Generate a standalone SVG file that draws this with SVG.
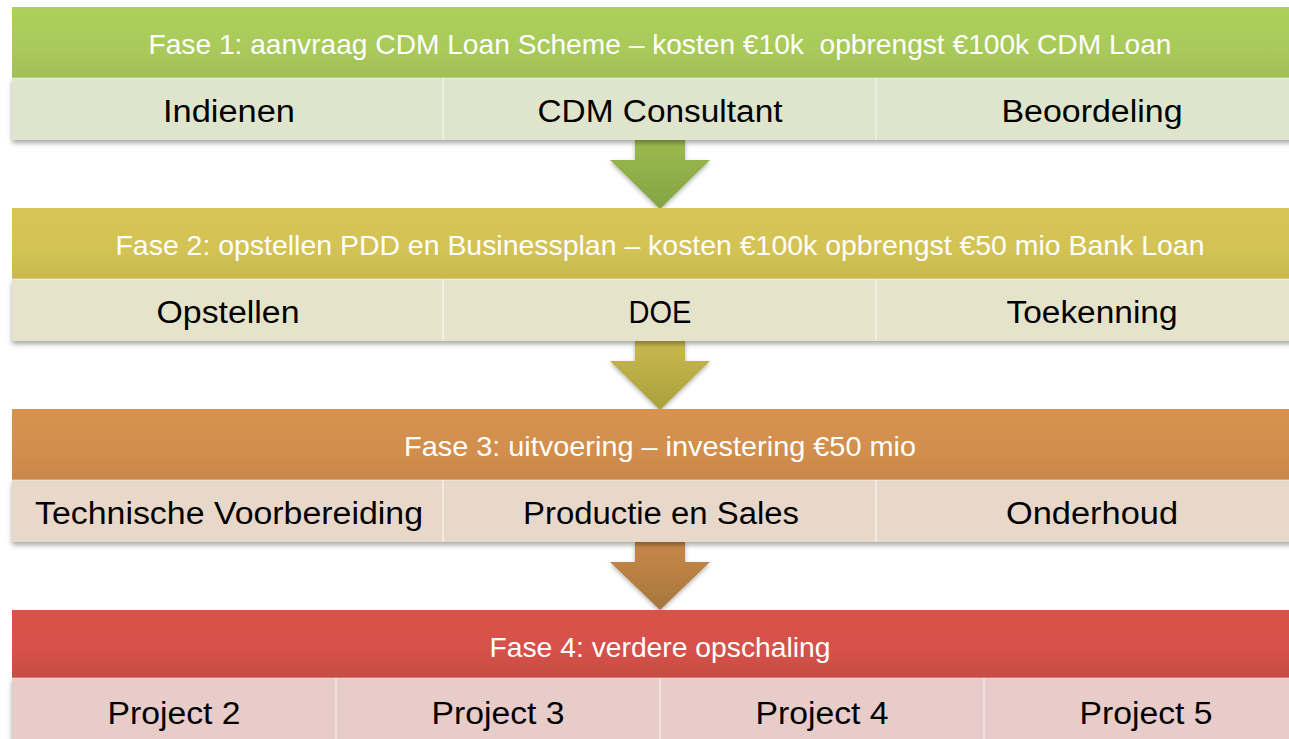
<svg xmlns="http://www.w3.org/2000/svg" width="1289" height="739" viewBox="0 0 1289 739">
<defs>
<style>
.hd{font-family:"Liberation Sans",Arial,sans-serif;font-size:28px;fill:#ffffff;text-anchor:middle}
.sb{font-family:"Liberation Sans",Arial,sans-serif;font-size:31px;fill:#000000;text-anchor:middle}
.dv{stroke:#ffffff;stroke-opacity:0.55;stroke-width:1.5}
</style>
<filter id="sh" x="-5%" y="-10%" width="110%" height="130%">
<feDropShadow dx="0" dy="3" stdDeviation="2.5" flood-color="#000" flood-opacity="0.35"/>
</filter>
<linearGradient id="g1" x1="0" y1="0" x2="0" y2="1"><stop offset="0" stop-color="#acd05b"/><stop offset="0.6" stop-color="#a9ca5a"/><stop offset="1" stop-color="#a1bf58"/></linearGradient>
<linearGradient id="g2" x1="0" y1="0" x2="0" y2="1"><stop offset="0" stop-color="#d7c656"/><stop offset="0.6" stop-color="#d3c254"/><stop offset="1" stop-color="#c9b84f"/></linearGradient>
<linearGradient id="g3" x1="0" y1="0" x2="0" y2="1"><stop offset="0" stop-color="#d6924e"/><stop offset="0.6" stop-color="#d28e4c"/><stop offset="1" stop-color="#c98648"/></linearGradient>
<linearGradient id="g4" x1="0" y1="0" x2="0" y2="1"><stop offset="0" stop-color="#da5248"/><stop offset="0.6" stop-color="#d5514a"/><stop offset="1" stop-color="#c74c43"/></linearGradient>
<linearGradient id="a1" x1="0" y1="0" x2="0" y2="1"><stop offset="0" stop-color="#9bbb50"/><stop offset="1" stop-color="#84a343"/></linearGradient>
<linearGradient id="a2" x1="0" y1="0" x2="0" y2="1"><stop offset="0" stop-color="#c9b84c"/><stop offset="1" stop-color="#a9a13f"/></linearGradient>
<linearGradient id="a3" x1="0" y1="0" x2="0" y2="1"><stop offset="0" stop-color="#c98848"/><stop offset="1" stop-color="#a7773d"/></linearGradient>
<filter id="ash" x="-20%" y="-10%" width="140%" height="130%">
<feDropShadow dx="0" dy="2" stdDeviation="2" flood-color="#000" flood-opacity="0.3"/>
</filter>
</defs>
<rect width="1289" height="739" fill="#ffffff"/>

<g id="connectors" filter="url(#ash)">
<path d="M635,140 H685 V160 H710 L660,209 L610,160 H635 Z" fill="url(#a1)"/>
<path d="M635,341 H685 V361 H710 L660,410 L610,361 H635 Z" fill="url(#a2)"/>
<path d="M635,542 H685 V562 H710 L660,610 L610,562 H635 Z" fill="url(#a3)"/>
</g>

<g id="phase1">
<g filter="url(#sh)">
<rect x="12" y="78" width="1300" height="62" fill="#dfe5cd"/>
</g>
<rect x="12" y="7" width="1300" height="71" fill="url(#g1)"/>
<line class="dv" x1="443" y1="78" x2="443" y2="140"/>
<line class="dv" x1="876" y1="78" x2="876" y2="140"/>
<line x1="12" y1="78" x2="1312" y2="78" stroke="#ffffff" stroke-opacity="0.5"/>
<text class="hd" x="660" y="54" textLength="1023" lengthAdjust="spacingAndGlyphs">Fase 1: aanvraag CDM Loan Scheme – kosten €10k&#160; opbrengst €100k CDM Loan</text>
<text class="sb" x="229" y="122" textLength="132" lengthAdjust="spacingAndGlyphs">Indienen</text>
<text class="sb" x="660" y="122" textLength="245" lengthAdjust="spacingAndGlyphs">CDM Consultant</text>
<text class="sb" x="1092" y="122" textLength="181" lengthAdjust="spacingAndGlyphs">Beoordeling</text>
</g>

<g id="phase2">
<g filter="url(#sh)">
<rect x="12" y="279" width="1300" height="62" fill="#e6e3cb"/>
</g>
<rect x="12" y="208" width="1300" height="71" fill="url(#g2)"/>
<line class="dv" x1="443" y1="279" x2="443" y2="341"/>
<line class="dv" x1="876" y1="279" x2="876" y2="341"/>
<line x1="12" y1="279" x2="1312" y2="279" stroke="#ffffff" stroke-opacity="0.5"/>
<text class="hd" x="660" y="255" textLength="1089" lengthAdjust="spacingAndGlyphs">Fase 2: opstellen PDD en Businessplan – kosten €100k opbrengst €50 mio Bank Loan</text>
<text class="sb" x="228" y="323" textLength="143" lengthAdjust="spacingAndGlyphs">Opstellen</text>
<text class="sb" x="660" y="323" textLength="63" lengthAdjust="spacingAndGlyphs">DOE</text>
<text class="sb" x="1092" y="323" textLength="171" lengthAdjust="spacingAndGlyphs">Toekenning</text>
</g>

<g id="phase3">
<g filter="url(#sh)">
<rect x="12" y="480" width="1300" height="62" fill="#e8d8ca"/>
</g>
<rect x="12" y="409" width="1300" height="71" fill="url(#g3)"/>
<line class="dv" x1="443" y1="480" x2="443" y2="542"/>
<line class="dv" x1="876" y1="480" x2="876" y2="542"/>
<line x1="12" y1="480" x2="1312" y2="480" stroke="#ffffff" stroke-opacity="0.5"/>
<text class="hd" x="660" y="456" textLength="512" lengthAdjust="spacingAndGlyphs">Fase 3: uitvoering – investering €50 mio</text>
<text class="sb" x="229" y="524" textLength="388" lengthAdjust="spacingAndGlyphs">Technische Voorbereiding</text>
<text class="sb" x="661" y="524" textLength="276" lengthAdjust="spacingAndGlyphs">Productie en Sales</text>
<text class="sb" x="1092" y="524" textLength="172" lengthAdjust="spacingAndGlyphs">Onderhoud</text>
</g>

<g id="phase4">
<g filter="url(#sh)">
<rect x="12" y="678" width="1300" height="70" fill="#e7ccca"/>
</g>
<rect x="12" y="610" width="1300" height="68" fill="url(#g4)"/>
<line class="dv" x1="336" y1="678" x2="336" y2="739"/>
<line class="dv" x1="660" y1="678" x2="660" y2="739"/>
<line class="dv" x1="984" y1="678" x2="984" y2="739"/>
<line x1="12" y1="678" x2="1312" y2="678" stroke="#ffffff" stroke-opacity="0.5"/>
<text class="hd" x="660" y="657" textLength="341" lengthAdjust="spacingAndGlyphs">Fase 4: verdere opschaling</text>
<text class="sb" x="174" y="724" textLength="133" lengthAdjust="spacingAndGlyphs">Project 2</text>
<text class="sb" x="498" y="724" textLength="133" lengthAdjust="spacingAndGlyphs">Project 3</text>
<text class="sb" x="822" y="724" textLength="133" lengthAdjust="spacingAndGlyphs">Project 4</text>
<text class="sb" x="1146" y="724" textLength="133" lengthAdjust="spacingAndGlyphs">Project 5</text>
</g>
</svg>
